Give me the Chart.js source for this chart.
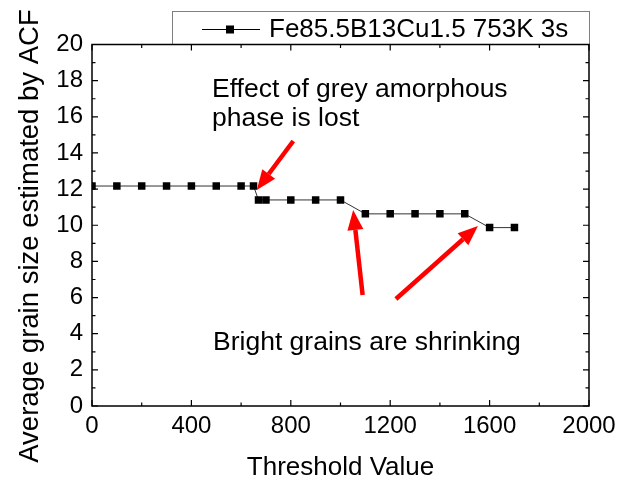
<!DOCTYPE html>
<html>
<head>
<meta charset="utf-8">
<script src="https://cdn.jsdelivr.net/npm/chart.js@4/dist/chart.umd.min.js"></script>
<style>
html, body { margin: 0; padding: 0; background: #fff; }
canvas { display: block; }
</style>
</head>
<body>
<canvas id="chart" width="632" height="481"></canvas>
<script>
// data
const thresholds = [0, 100, 200, 300, 400, 500, 600, 650, 670, 700, 800, 900, 1000, 1100, 1200, 1300, 1400, 1500, 1600, 1700];
const grainSize = [12.17, 12.17, 12.17, 12.17, 12.17, 12.17, 12.17, 12.17, 11.4, 11.4, 11.4, 11.4, 11.4, 10.63, 10.63, 10.63, 10.63, 10.63, 9.87, 9.87];
const seriesLabel = 'Fe85.5B13Cu1.5 753K 3s';
const xTitle = 'Threshold Value';
const yTitle = 'Average grain size estimated by ACF';

// annotations, in data coordinates
const notes = [
    { text: 'Effect of grey amorphous', x: 483, y: 17.11 },
    { text: 'phase is lost', x: 483, y: 15.5 },
    { text: 'Bright grains are shrinking', x: 487, y: 3.1 }
];
const arrows = [
    { from: [810, 14.66], to: [663, 11.95] },
    { from: [1089, 6.14], to: [1051, 10.84] },
    { from: [1223, 5.92], to: [1553, 9.96] }
];

const FONT = "'Liberation Sans', Arial, sans-serif";

function drawArrow(ctx, x1, y1, x2, y2) {
    const ang = Math.atan2(y2 - y1, x2 - x1);
    const headLen = 20, headW = 8;
    const bx = x2 - headLen * Math.cos(ang), by = y2 - headLen * Math.sin(ang);
    ctx.save();
    ctx.strokeStyle = '#ff0000';
    ctx.fillStyle = '#ff0000';
    ctx.lineWidth = 4.5;
    ctx.beginPath();
    ctx.moveTo(x1, y1);
    ctx.lineTo(bx, by);
    ctx.stroke();
    ctx.beginPath();
    ctx.moveTo(x2, y2);
    ctx.lineTo(bx + headW * Math.sin(ang), by - headW * Math.cos(ang));
    ctx.lineTo(bx - headW * Math.sin(ang), by + headW * Math.cos(ang));
    ctx.closePath();
    ctx.fill();
    ctx.restore();
}

const framePlugin = {
    id: 'frame',
    afterDraw(chart) {
        const { ctx, chartArea: a, scales: { x, y } } = chart;
        ctx.save();

        // legend box
        ctx.fillStyle = '#fff';
        ctx.strokeStyle = '#808080';
        ctx.lineWidth = 1;
        ctx.fillRect(172.5, 11.5, 417, 33);
        ctx.strokeRect(172.5, 11.5, 417, 33);
        ctx.strokeStyle = '#000';
        ctx.beginPath();
        ctx.moveTo(202, 29.5);
        ctx.lineTo(260, 29.5);
        ctx.stroke();
        ctx.fillStyle = '#000';
        ctx.fillRect(226, 25.5, 8, 8);
        ctx.font = '26px ' + FONT;
        ctx.textBaseline = 'middle';
        ctx.textAlign = 'left';
        ctx.fillText(seriesLabel, 269, 30);

        // frame
        ctx.strokeStyle = '#000';
        ctx.lineWidth = 1.5;
        ctx.strokeRect(a.left, a.top, a.right - a.left, a.bottom - a.top);

        // inward ticks
        ctx.lineWidth = 1.2;
        ctx.beginPath();
        for (let v = 0; v <= 2000; v += 200) {
            const px = x.getPixelForValue(v);
            const len = v % 400 === 0 ? 6 : 3.5;
            ctx.moveTo(px, a.bottom); ctx.lineTo(px, a.bottom - len);
            ctx.moveTo(px, a.top); ctx.lineTo(px, a.top + len);
        }
        for (let v = 0; v <= 20; v += 1) {
            const py = y.getPixelForValue(v);
            const len = v % 2 === 0 ? 6 : 3.5;
            ctx.moveTo(a.left, py); ctx.lineTo(a.left + len, py);
            ctx.moveTo(a.right, py); ctx.lineTo(a.right - len, py);
        }
        ctx.stroke();

        // y axis title (centred a bit below the plot middle, as in the source)
        ctx.save();
        ctx.font = '27.5px ' + FONT;
        ctx.textAlign = 'center';
        ctx.textBaseline = 'middle';
        ctx.translate(30, 236);
        ctx.rotate(-Math.PI / 2);
        ctx.fillText(yTitle, 0, 0);
        ctx.restore();

        // annotations
        ctx.fillStyle = '#000';
        ctx.font = '25px ' + FONT;
        ctx.textBaseline = 'alphabetic';
        notes.forEach(n => {
            ctx.save();
            ctx.translate(x.getPixelForValue(n.x), y.getPixelForValue(n.y));
            ctx.scale(1.06, 1);
            ctx.fillText(n.text, 0, 0);
            ctx.restore();
        });
        arrows.forEach(ar => {
            drawArrow(ctx,
                x.getPixelForValue(ar.from[0]), y.getPixelForValue(ar.from[1]),
                x.getPixelForValue(ar.to[0]), y.getPixelForValue(ar.to[1]));
        });
        ctx.restore();
    }
};

new Chart(document.getElementById('chart'), {
    type: 'line',
    data: {
        labels: thresholds,
        datasets: [{
            label: seriesLabel,
            data: thresholds.map((t, i) => ({ x: t, y: grainSize[i] })),
            borderColor: '#333',
            borderWidth: 1,
            pointStyle: 'rect',
            pointRadius: 5.3,
            pointBackgroundColor: '#000',
            pointBorderWidth: 0,
            tension: 0
        }]
    },
    options: {
        responsive: false,
        animation: false,
        devicePixelRatio: 1,
        layout: { padding: { top: 44.5, right: 43, left: 0, bottom: 0 } },
        plugins: { legend: { display: false }, tooltip: { enabled: false } },
        scales: {
            x: {
                type: 'linear', min: 0, max: 2000,
                afterFit: s => { s.height = 75; },
                grid: { display: false, drawTicks: false },
                border: { display: false },
                ticks: { stepSize: 400, color: '#000', padding: 6, font: { family: FONT, size: 24 }, callback: v => String(v) },
                title: { display: true, text: xTitle, color: '#000', padding: { bottom: 0, top: 0 }, font: { family: FONT, size: 26, lineHeight: 1 } }
            },
            y: {
                min: 0, max: 20,
                afterFit: s => { s.width = 92; },
                grid: { display: false, drawTicks: false },
                border: { display: false },
                ticks: { stepSize: 2, color: '#000', padding: 9, font: { family: FONT, size: 24 } },
                title: { display: false }
            }
        }
    },
    plugins: [framePlugin]
});
</script>
</body>
</html>
